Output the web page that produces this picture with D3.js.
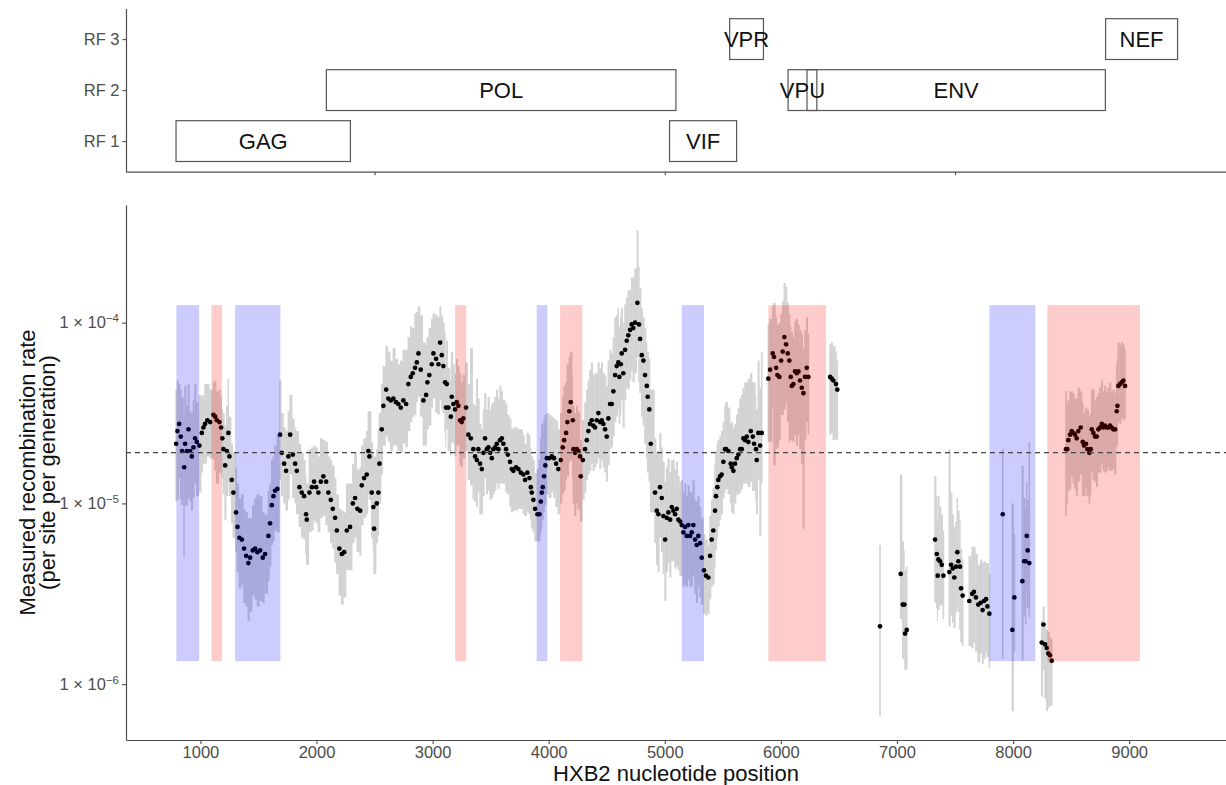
<!DOCTYPE html>
<html>
<head>
<meta charset="utf-8">
<script src="https://cdn.jsdelivr.net/npm/d3@7"></script>
<style>
  body { margin: 0; background: #fff; }
  svg { display: block; font-family: "Liberation Sans", Arial, sans-serif; }
</style>
</head>
<body>
<svg id="chart" width="1226" height="785"></svg>
<script>
// gene map (HXB2 coordinates)
const genes = ["GAG", "POL", "VIF", "VPR", "VPU", "ENV", "NEF"];
const geneStart = [790, 2085, 5041, 5559, 6062, 6225, 8797];
const geneEnd = [2292, 5096, 5619, 5850, 6310, 8795, 9417];
const geneFrame = [1, 2, 1, 3, 2, 2, 3];
const frameLabels = ["RF 1", "RF 2", "RF 3"];

const xTicks = [1000, 2000, 3000, 4000, 5000, 6000, 7000, 8000, 9000];
const mapTicks = [2500, 5000, 7500];
const yTickExp = [-6, -5, -4];

// highlighted regions
const blueBands = [[793, 989], [1299, 1689], [3897, 3988], [5146, 5338], [7796, 8192]];
const redBands = [[1095, 1187], [3194, 3290], [4098, 4290], [5892, 6389], [8295, 9093]];
const bandLow = 1.34e-6;
const bandHigh = 1.25e-4;
const meanRate = 1.91e-5;

// measured rate per window: position, log10(rate), CI half widths (decades)
const position = [
  791, 802, 817, 831, 842, 860, 868, 883, 897, 911,
  926, 940, 954, 969, 991, 1012, 1026, 1040, 1060, 1084,
  1112, 1127, 1141, 1164, 1178, 1189, 1198, 1213, 1227, 1241,
  1250, 1270, 1284, 1307, 1319, 1336, 1357, 1376, 1394, 1413,
  1428, 1451, 1471, 1491, 1514, 1537, 1557, 1586, 1600, 1615,
  1629, 1643, 1663, 1686, 1701, 1721, 1738, 1758, 1773, 1796,
  1816, 1830, 1853, 1873, 1893, 1910, 1916, 1939, 1960, 1979,
  1997, 2016, 2037, 2059, 2083, 2102, 2123, 2140, 2160, 2175,
  2197, 2218, 2238, 2261, 2289, 2313, 2332, 2352, 2376, 2390,
  2410, 2433, 2447, 2456, 2476, 2490, 2496, 2519, 2533, 2542,
  2562, 2576, 2600, 2619, 2640, 2662, 2685, 2705, 2726, 2748,
  2772, 2791, 2812, 2829, 2849, 2864, 2878, 2898, 2921, 2944,
  2955, 2972, 2993, 3007, 3030, 3050, 3065, 3079, 3093, 3108,
  3116, 3122, 3136, 3157, 3165, 3179, 3194, 3208, 3222, 3237,
  3251, 3265, 3288, 3308, 3329, 3351, 3366, 3381, 3394, 3409,
  3424, 3438, 3452, 3467, 3481, 3496, 3510, 3524, 3539, 3553,
  3567, 3581, 3596, 3610, 3633, 3648, 3667, 3682, 3696, 3719,
  3739, 3760, 3782, 3797, 3816, 3834, 3846, 3854, 3868, 3883,
  3903, 3920, 3932, 3941, 3949, 3960, 3971, 3984, 4006, 4027,
  4046, 4064, 4083, 4104, 4121, 4133, 4150, 4161, 4178, 4190,
  4208, 4213, 4227, 4242, 4256, 4270, 4276, 4294, 4313, 4328,
  4342, 4356, 4371, 4385, 4399, 4414, 4428, 4443, 4457, 4471,
  4486, 4500, 4514, 4529, 4543, 4557, 4572, 4586, 4600, 4609,
  4621, 4629, 4643, 4658, 4672, 4686, 4701, 4715, 4729, 4744,
  4764, 4778, 4787, 4802, 4816, 4830, 4845, 4853, 4867, 4879,
  4916, 4931, 4945, 4959, 4974, 4988, 5003, 5017, 5031, 5046,
  5060, 5074, 5089, 5103, 5117, 5132, 5146, 5160, 5175, 5189,
  5203, 5218, 5232, 5246, 5261, 5275, 5289, 5304, 5318, 5338,
  5355, 5375, 5390, 5404, 5418, 5433, 5441, 5453, 5461, 5476,
  5490, 5505, 5519, 5528, 5548, 5568, 5577, 5591, 5605, 5620,
  5634, 5649, 5663, 5677, 5692, 5706, 5720, 5741, 5758, 5769,
  5786, 5792, 5806, 5821, 5835, 5892, 5907, 5930, 5941, 5959,
  5970, 5987, 6002, 6016, 6030, 6045, 6059, 6073, 6085, 6094,
  6108, 6122, 6137, 6151, 6165, 6180, 6194, 6208, 6223, 6237,
  6424, 6438, 6452, 6475, 6486, 6854, 7032, 7050, 7064, 7070,
  7084, 7328, 7343, 7351, 7357, 7371, 7386, 7400, 7451, 7466,
  7481, 7494, 7509, 7520, 7529, 7543, 7552, 7566, 7623, 7648,
  7663, 7680, 7700, 7721, 7738, 7750, 7767, 7779, 7796, 7911,
  7994, 8011, 8080, 8095, 8109, 8118, 8126, 8140, 8247, 8261,
  8276, 8290, 8304, 8318, 8333, 8456, 8467, 8476, 8491, 8505,
  8519, 8534, 8548, 8562, 8583, 8600, 8611, 8628, 8640, 8657,
  8669, 8678, 8692, 8706, 8721, 8735, 8749, 8764, 8778, 8792,
  8807, 8821, 8835, 8850, 8864, 8879, 8893, 8899, 8907, 8922,
  8936, 8950, 8965
];

const log10Rate = [
  -4.67, -4.60, -4.56, -4.63, -4.71, -4.80, -4.67, -4.71, -4.59, -4.71,
  -4.74, -4.69, -4.64, -4.66, -4.68, -4.61, -4.58, -4.56, -4.54, -4.55,
  -4.51, -4.52, -4.54, -4.55, -4.58, -4.64, -4.70, -4.79, -4.71, -4.61,
  -4.74, -4.87, -4.94, -5.05, -5.13, -5.19, -5.20, -5.25, -5.29, -5.33,
  -5.30, -5.26, -5.25, -5.27, -5.26, -5.30, -5.28, -5.18, -5.11, -5.01,
  -4.96, -4.93, -4.92, -4.62, -4.72, -4.78, -4.82, -4.74, -4.62, -4.73,
  -4.78, -4.82, -4.91, -4.94, -4.96, -5.06, -5.09, -4.94, -4.91, -4.88,
  -4.91, -4.94, -4.88, -4.85, -4.88, -4.94, -4.98, -5.03, -5.08, -5.15,
  -5.25, -5.28, -5.27, -5.15, -5.13, -5.00, -4.97, -5.03, -5.04, -4.90,
  -4.86, -4.84, -4.71, -4.74, -4.94, -5.02, -5.14, -5.00, -4.94, -4.78,
  -4.59, -4.46, -4.37, -4.42, -4.43, -4.42, -4.44, -4.45, -4.47, -4.43,
  -4.45, -4.34, -4.30, -4.28, -4.25, -4.22, -4.17, -4.26, -4.43, -4.40,
  -4.33, -4.29, -4.23, -4.17, -4.20, -4.23, -4.11, -4.18, -4.24, -4.33,
  -4.47, -4.34, -4.47, -4.52, -4.41, -4.45, -4.48, -4.44, -4.46, -4.54,
  -4.55, -4.53, -4.47, -4.62, -4.64, -4.70, -4.74, -4.76, -4.70, -4.78,
  -4.81, -4.72, -4.64, -4.70, -4.69, -4.72, -4.75, -4.70, -4.69, -4.67,
  -4.70, -4.65, -4.64, -4.67, -4.70, -4.73, -4.77, -4.81, -4.82, -4.80,
  -4.81, -4.83, -4.84, -4.87, -4.83, -4.86, -4.91, -4.94, -4.98, -5.03,
  -5.06, -5.06, -4.99, -4.94, -4.91, -4.85, -4.79, -4.75, -4.75, -4.74,
  -4.75, -4.78, -4.81, -4.76, -4.69, -4.65, -4.61, -4.55, -4.49, -4.44,
  -4.54, -4.70, -4.72, -4.70, -4.71, -4.74, -4.85, -4.76, -4.70, -4.65,
  -4.60, -4.56, -4.54, -4.57, -4.58, -4.54, -4.50, -4.55, -4.54, -4.56,
  -4.59, -4.63, -4.53, -4.45, -4.45, -4.38, -4.29, -4.24, -4.22, -4.30,
  -4.23, -4.17, -4.28, -4.15, -4.10, -4.07, -4.04, -4.01, -4.03, -4.00,
  -3.89, -4.01, -4.09, -4.18, -4.21, -4.29, -4.35, -4.41, -4.48, -4.67,
  -4.94, -5.04, -5.06, -4.91, -4.97, -5.07, -5.20, -5.08, -5.05, -5.09,
  -5.02, -5.04, -5.06, -5.03, -5.09, -5.10, -5.12, -5.16, -5.13, -5.18,
  -5.12, -5.18, -5.16, -5.12, -5.20, -5.23, -5.18, -5.22, -5.30, -5.37,
  -5.40, -5.41, -5.29, -5.20, -5.15, -5.04, -4.96, -4.91, -4.87, -4.85,
  -4.84, -4.77, -4.70, -4.70, -4.71, -4.78, -4.80, -4.82, -4.78, -4.75,
  -4.73, -4.70, -4.70, -4.64, -4.65, -4.63, -4.66, -4.60, -4.63, -4.67,
  -4.70, -4.76, -4.61, -4.68, -4.61, -4.31, -4.26, -4.17, -4.19, -4.25,
  -4.29, -4.30, -4.21, -4.16, -4.08, -4.12, -4.17, -4.21, -4.30, -4.35,
  -4.34, -4.27, -4.28, -4.27, -4.32, -4.36, -4.39, -4.30, -4.25, -4.30,
  -4.30, -4.31, -4.32, -4.34, -4.37, -5.68, -5.39, -5.56, -5.56, -5.72,
  -5.70, -5.20, -5.28, -5.40, -5.31, -5.32, -5.34, -5.40, -5.38, -5.34,
  -5.36, -5.41, -5.35, -5.27, -5.32, -5.35, -5.47, -5.51, -5.54, -5.50,
  -5.49, -5.52, -5.56, -5.55, -5.59, -5.54, -5.53, -5.57, -5.61, -5.06,
  -5.70, -5.52, -5.43, -5.32, -5.32, -5.18, -5.26, -5.33, -5.77, -5.67,
  -5.78, -5.80, -5.83, -5.84, -5.87, -4.70, -4.70, -4.65, -4.62, -4.60,
  -4.61, -4.62, -4.64, -4.60, -4.58, -4.66, -4.68, -4.67, -4.70, -4.72,
  -4.70, -4.59, -4.61, -4.63, -4.63, -4.59, -4.58, -4.56, -4.58, -4.57,
  -4.58, -4.58, -4.57, -4.58, -4.59, -4.59, -4.49, -4.46, -4.35, -4.34,
  -4.33, -4.32, -4.35
];

const ciUp = [
  .30, .28, .22, .26, .30, .28, .32, .25, .25, .22,
  .24, .26, .30, .22, .28, .20, .18, .22, .20, .18,
  .18, .20, .16, .18, .17, .16, .20, .22, .25, .30,
  .22, .20, .22, .25, .24, .22, .25, .22, .24, .25,
  .22, .25, .28, .32, .30, .25, .22, .25, .22, .25,
  .22, .25, .30, .30, .22, .20, .22, .25, .22, .20,
  .20, .22, .24, .22, .20, .22, .20, .24, .22, .20,
  .22, .20, .24, .20, .22, .20, .22, .24, .22, .20,
  .22, .24, .22, .26, .24, .22, .25, .22, .24, .22,
  .22, .24, .22, .25, .28, .30, .40, .30, .35, .28,
  .25, .22, .24, .26, .22, .28, .24, .22, .26, .28,
  .30, .26, .28, .25, .30, .28, .26, .30, .32, .28,
  .25, .26, .25, .22, .24, .26, .20, .22, .24, .28,
  .22, .24, .22, .20, .25, .22, .20, .24, .22, .26,
  .22, .24, .25, .28, .50, .25, .28, .45, .28, .22,
  .22, .24, .25, .22, .28, .24, .30, .26, .28, .30,
  .28, .30, .26, .24, .25, .22, .24, .22, .24, .22,
  .22, .24, .22, .20, .22, .24, .22, .20, .22, .20,
  .25, .30, .35, .38, .35, .32, .28, .25, .24, .22,
  .22, .24, .22, .26, .28, .30, .28, .32, .30, .28,
  .25, .24, .22, .24, .22, .24, .20, .22, .26, .28,
  .28, .30, .32, .28, .30, .26, .28, .30, .32, .28,
  .30, .28, .32, .30, .28, .30, .32, .28, .30, .28,
  .26, .25, .28, .25, .24, .25, .22, .26, .28, .30,
  .40, .32, .28, .26, .24, .26, .24, .25, .28, .30,
  .30, .32, .35, .30, .28, .30, .32, .28, .30, .26,
  .26, .28, .25, .26, .24, .22, .25, .22, .24, .22,
  .22, .24, .22, .25, .22, .24, .22, .20, .22, .20,
  .20, .18, .22, .22, .24, .26, .25, .24, .22, .22,
  .24, .22, .24, .26, .24, .22, .25, .24, .22, .24,
  .26, .28, .30, .28, .32, .30, .35, .32, .30, .34,
  .30, .28, .40, .32, .45, .30, .28, .26, .30, .28,
  .28, .30, .26, .28, .30, .32, .28, .26, .28, .30,
  .26, .28, .30, .26, .28, .30, .25, .26, .28, .24,
  .18, .20, .19, .18, .16, .45, .55, .35, .30, .35,
  .35, .35, .32, .30, .35, .30, .28, .25, .68, .40,
  .30, .28, .25, .30, .28, .26, .22, .20, .25, .26,
  .25, .24, .22, .24, .26, .22, .20, .24, .22, .36,
  .70, .35, .64, .35, .30, .30, .28, .67, .12, .10,
  .12, .10, .12, .10, .12, .32, .25, .22, .24, .22,
  .22, .20, .22, .24, .20, .22, .18, .20, .22, .20,
  .20, .22, .24, .20, .22, .20, .22, .24, .20, .22,
  .20, .22, .24, .20, .22, .20, .25, .26, .24, .22,
  .22, .20, .20
];

const ciDown = [
  .32, .38, .30, .35, .30, .50, .34, .30, .38, .28,
  .30, .28, .25, .30, .26, .22, .20, .22, .20, .20,
  .25, .30, .35, .28, .25, .22, .25, .30, .25, .28,
  .22, .24, .25, .22, .25, .28, .25, .30, .28, .32,
  .30, .25, .28, .30, .28, .25, .22, .25, .24, .22,
  .25, .22, .24, .25, .24, .22, .22, .24, .22, .24,
  .22, .24, .22, .25, .24, .22, .25, .22, .24, .22,
  .20, .22, .20, .22, .24, .22, .24, .22, .25, .24,
  .26, .28, .25, .22, .24, .22, .22, .24, .25, .22,
  .22, .22, .24, .24, .25, .24, .25, .22, .24, .22,
  .25, .22, .26, .24, .28, .26, .24, .26, .25, .24,
  .24, .26, .25, .24, .26, .22, .24, .26, .25, .28,
  .26, .28, .24, .25, .30, .28, .32, .30, .26, .28,
  .22, .25, .24, .22, .25, .22, .26, .24, .22, .25,
  .25, .22, .24, .25, .26, .28, .25, .26, .24, .28,
  .25, .24, .22, .25, .24, .26, .22, .25, .24, .22,
  .22, .24, .25, .22, .24, .22, .25, .24, .22, .24,
  .22, .20, .22, .20, .22, .20, .18, .20, .18, .18,
  .15, .15, .18, .20, .18, .20, .22, .20, .22, .20,
  .22, .24, .25, .24, .26, .28, .26, .30, .28, .32,
  .32, .30, .35, .30, .32, .30, .25, .22, .24, .22,
  .24, .26, .24, .25, .22, .24, .25, .26, .22, .24,
  .24, .25, .26, .25, .24, .25, .26, .28, .25, .26,
  .28, .26, .30, .28, .26, .30, .28, .26, .30, .28,
  .30, .32, .30, .34, .36, .38, .40, .42, .40, .38,
  .28, .30, .32, .28, .30, .32, .34, .30, .28, .32,
  .30, .28, .30, .32, .28, .30, .28, .30, .32, .28,
  .30, .28, .30, .28, .30, .32, .28, .30, .26, .24,
  .22, .20, .24, .26, .30, .32, .30, .28, .26, .24,
  .22, .20, .24, .22, .24, .22, .25, .24, .22, .20,
  .22, .24, .22, .25, .24, .26, .25, .28, .30, .26,
  .28, .30, .26, .50, .28, .35, .40, .30, .60, .45,
  .40, .35, .30, .35, .40, .32, .38, .45, .35, .30,
  .32, .35, .40, .35, .38, .42, .75, .35, .30, .32,
  .32, .30, .33, .30, .28, .50, .25, .30, .30, .20,
  .22, .35, .30, .25, .28, .25, .22, .24, .30, .28,
  .30, .28, .25, .30, .28, .35, .30, .28, .25, .30,
  .28, .30, .32, .28, .30, .32, .30, .28, .30, .80,
  .45, .30, .44, .30, .35, .30, .32, .30, .30, .25,
  .30, .35, .30, .28, .25, .37, .30, .28, .30, .25,
  .28, .30, .32, .28, .26, .30, .28, .25, .26, .28,
  .25, .24, .26, .25, .28, .24, .25, .22, .24, .26,
  .24, .22, .25, .24, .22, .25, .20, .22, .20, .22,
  .20, .22, .18
];

const points = position.map((p, i) => ({
  pos: p,
  next: i < position.length - 1 ? position[i + 1] : p,
  rate: Math.pow(10, log10Rate[i]),
  lo: Math.pow(10, log10Rate[i] - ciDown[i]),
  hi: Math.pow(10, log10Rate[i] + ciUp[i])
}));

const svg = d3.select("#chart");
const axisColor = "#4d4d4d";

const x = d3.scaleLinear().domain([359, 9848]).range([126, 1227.6]);

// ---------- gene map panel ----------
const yFrame = d3.scaleLinear().domain([0.4, 3.6]).range([171.7, 8.5]);
const mapPanel = svg.append("g");

const frameAxis = mapPanel.append("g")
  .attr("transform", "translate(126,0)")
  .call(d3.axisLeft(yFrame).tickValues([1, 2, 3]).tickSize(3.5).tickSizeOuter(0).tickPadding(3)
    .tickFormat((d, i) => frameLabels[i]));

const mapAxis = mapPanel.append("g")
  .attr("transform", "translate(0," + yFrame(0.4) + ")")
  .call(d3.axisBottom(x).tickValues(mapTicks).tickSize(3.5).tickSizeOuter(0).tickFormat(""));

const geneRows = genes.map((g, i) => ({name: g, start: geneStart[i], end: geneEnd[i], frame: geneFrame[i]}));

mapPanel.selectAll("rect.gene")
  .data(geneRows)
  .enter()
  .append("rect")
  .attr("class", "gene")
  .attr("x", d => x(d.start))
  .attr("width", d => x(d.end) - x(d.start))
  .attr("y", d => yFrame(d.frame + 0.4))
  .attr("height", d => yFrame(d.frame - 0.4) - yFrame(d.frame + 0.4))
  .attr("fill", "none")
  .attr("stroke", "#555")
  .attr("stroke-width", 1.2);

mapPanel.selectAll("text.gene")
  .data(geneRows)
  .enter()
  .append("text")
  .attr("class", "gene")
  .attr("x", d => x((d.start + d.end) / 2))
  .attr("y", d => yFrame(d.frame) + 8)
  .attr("text-anchor", "middle")
  .attr("font-size", 22)
  .attr("fill", "#111")
  .text(d => d.name);

// ---------- rate panel ----------
const y = d3.scaleLog().domain([Math.pow(10, -6.309), Math.pow(10, -3.349)]).range([740, 205]);
const ratePanel = svg.append("g");

// CI bars: each bar spans to the next window when windows are adjacent, so they read as a ribbon
const barWidth = d => {
  const gap = x(d.next) - x(d.pos);
  return gap > 0 && gap < 4.5 ? gap + 0.4 : 1.6;
};

ratePanel.selectAll("rect.ci")
  .data(points)
  .enter()
  .append("rect")
  .attr("class", "ci")
  .attr("x", d => x(d.pos) - 0.8)
  .attr("width", barWidth)
  .attr("y", d => y(d.hi))
  .attr("height", d => y(d.lo) - y(d.hi))
  .attr("fill", "#d3d3d3");

ratePanel.selectAll("circle.pt")
  .data(points)
  .enter()
  .append("circle")
  .attr("class", "pt")
  .attr("cx", d => x(d.pos))
  .attr("cy", d => y(d.rate))
  .attr("r", 2.35)
  .attr("fill", "#000");

const bands = blueBands.map(b => ({from: b[0], to: b[1], color: "#0000ff"}))
  .concat(redBands.map(b => ({from: b[0], to: b[1], color: "#ff0000"})));

ratePanel.selectAll("rect.band")
  .data(bands)
  .enter()
  .append("rect")
  .attr("class", "band")
  .attr("x", d => x(d.from))
  .attr("width", d => x(d.to) - x(d.from))
  .attr("y", y(bandHigh))
  .attr("height", y(bandLow) - y(bandHigh))
  .attr("fill", d => d.color)
  .attr("fill-opacity", 0.2);

ratePanel.append("line")
  .attr("x1", x.range()[0])
  .attr("x2", x.range()[1])
  .attr("y1", y(meanRate))
  .attr("y2", y(meanRate))
  .attr("stroke", "#444")
  .attr("stroke-width", 1.2)
  .attr("stroke-dasharray", "5,4");

const xAxis = ratePanel.append("g")
  .attr("transform", "translate(0,740)")
  .call(d3.axisBottom(x).tickValues(xTicks).tickSize(4).tickSizeOuter(0).tickPadding(2).tickFormat(d3.format("d")));

const yAxis = ratePanel.append("g")
  .attr("transform", "translate(126,0)")
  .call(d3.axisLeft(y).tickValues(yTickExp.map(e => Math.pow(10, e))).tickSize(4).tickSizeOuter(0).tickPadding(3)
    .tickFormat(() => ""));

yAxis.selectAll(".tick text").each(function (d, i) {
  const t = d3.select(this);
  t.append("tspan").text("1 \u00d7 10");
  t.append("tspan").attr("dy", "-0.55em").attr("font-size", 11.5).text("\u2212" + Math.abs(yTickExp[i]));
});

[frameAxis, mapAxis, xAxis, yAxis].forEach(a => {
  a.select(".domain").attr("stroke", axisColor).attr("stroke-width", 1.2);
  a.selectAll(".tick line").attr("stroke", axisColor).attr("stroke-width", 1.1);
  a.selectAll(".tick text")
    .attr("fill", axisColor)
    .attr("font-size", 16.5)
    .attr("font-family", "'Liberation Sans', Arial, sans-serif");
});

svg.append("text")
  .attr("x", 676)
  .attr("y", 781)
  .attr("text-anchor", "middle")
  .attr("font-size", 22)
  .attr("fill", "#111")
  .text("HXB2 nucleotide position");

const yTitle = svg.append("text")
  .attr("transform", "translate(0,472.5) rotate(-90)")
  .attr("text-anchor", "middle")
  .attr("font-size", 22)
  .attr("fill", "#111");
yTitle.append("tspan").attr("x", 0).attr("y", 35).text("Measured recombination rate");
yTitle.append("tspan").attr("x", 0).attr("y", 55).text("(per site per generation)");
</script>
</body>
</html>
